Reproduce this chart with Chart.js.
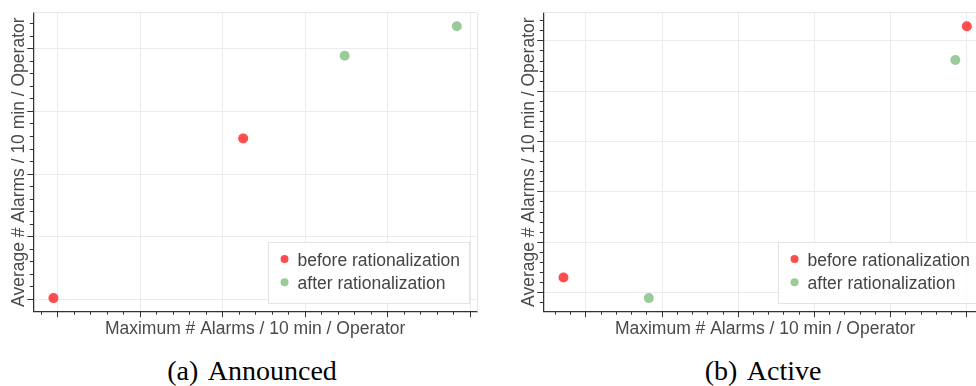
<!DOCTYPE html>
<html><head><meta charset="utf-8">
<script src="https://cdn.jsdelivr.net/npm/chart.js@4"></script>
<style>
html,body{margin:0;padding:0;background:#fff;overflow:hidden;width:976px;height:386px;position:relative}
.panel{position:absolute;top:0;width:490px;height:345px}
#pa{left:0}
#pb{left:510px}
.cap{position:absolute;top:355px;font-family:"Liberation Serif",serif;font-size:28px;line-height:normal;color:#000;white-space:nowrap;transform:translateX(-50%);word-spacing:4px}
</style></head><body>
<div class="panel" id="pa"><canvas id="ca" width="490" height="345"></canvas></div>
<div class="panel" id="pb"><canvas id="cb" width="490" height="345"></canvas></div>
<div class="cap" style="left:252px">(a) Announced</div>
<div class="cap" style="left:763px">(b) Active</div>
<script>
const seriesNames = ['before rationalization', 'after rationalization'];
const seriesColors = ['#ff4d4d', '#99cc99'];

const announcedBeforeX = [9.5, 32.5];
const announcedBeforeY = [1.02, 3.57];
const announcedAfterX = [44.8, 58.4];
const announcedAfterY = [4.89, 5.36];

const activeBeforeX = [7.06, 60.0];
const activeBeforeY = [1.30, 6.29];
const activeAfterX = [18.26, 58.49];
const activeAfterY = [0.89, 5.62];

const xTitle = 'Maximum # Alarms / 10 min / Operator';
const yTitle = 'Average # Alarms / 10 min / Operator';
const xMajorStep = 10;
const yMajorStep = 1;
const minorDivisions = 5;

Chart.defaults.font.family = '"Liberation Sans", Arial, sans-serif';

function pts(xs, ys) { return xs.map((x, i) => ({x: x, y: ys[i]})); }
function limits(arrs) {
  const all = [].concat(...arrs);
  const lo = Math.min(...all), hi = Math.max(...all), m = (hi - lo) * 0.05;
  return [lo - m, hi + m];
}
function alignPx(p) { return Math.round(p - 0.5) + 0.5; }

const decorPlugin = {
  id: 'decor',
  beforeDatasetsDraw(chart) {
    const {ctx, chartArea: a} = chart;
    ctx.save();
    ctx.strokeStyle = '#e6e6e6';
    ctx.lineWidth = 1;
    ctx.beginPath();
    ctx.moveTo(a.left, alignPx(a.top)); ctx.lineTo(a.right, alignPx(a.top));
    ctx.moveTo(alignPx(a.right), a.top); ctx.lineTo(alignPx(a.right), a.bottom);
    ctx.stroke();
    ctx.restore();
  },
  afterDatasetsDraw(chart) {
    const {ctx, chartArea: a, scales} = chart;
    ctx.save();
    // tick marks (major + minor)
    ctx.strokeStyle = '#333';
    ctx.lineWidth = 1;
    const tickVals = (sc, step) => {
      const s = step / minorDivisions, out = [];
      for (let k = Math.ceil(sc.min / s - 1e-9); k * s <= sc.max + 1e-9; k++) {
        out.push({v: k * s, major: Math.abs(k % minorDivisions) === 0});
      }
      return out;
    };
    ctx.beginPath();
    tickVals(scales.x, xMajorStep).forEach(t => {
      const px = alignPx(scales.x.getPixelForValue(t.v));
      ctx.moveTo(px, a.bottom); ctx.lineTo(px, a.bottom + (t.major ? 5.5 : 3));
    });
    tickVals(scales.y, yMajorStep).forEach(t => {
      const py = alignPx(scales.y.getPixelForValue(t.v));
      ctx.moveTo(a.left, py); ctx.lineTo(a.left - (t.major ? 6 : 3.5), py);
    });
    ctx.stroke();
    // legend inside plot, lower right
    ctx.font = '17.5px "Liberation Sans", Arial, sans-serif';
    const items = chart.data.datasets.map(d => ({text: d.label, color: d.backgroundColor}));
    const tw = Math.max(...items.map(i => ctx.measureText(i.text).width));
    const w = 29.3 + tw + 9.3, h = 61;
    const bx = a.right - 7.7 - w, by = a.bottom - 8.4 - h;
    ctx.fillStyle = 'rgba(255,255,255,0.85)';
    ctx.strokeStyle = '#e3e3e3';
    ctx.beginPath();
    ctx.rect(Math.round(bx) + 0.5, Math.round(by) + 0.5, Math.round(w), Math.round(h));
    ctx.fill(); ctx.stroke();
    items.forEach((it, i) => {
      ctx.fillStyle = it.color;
      ctx.beginPath();
      ctx.arc(bx + 16.3, by + 16.7 + i * 23.3, 4, 0, Math.PI * 2);
      ctx.fill();
      ctx.fillStyle = '#444';
      ctx.textBaseline = 'alphabetic';
      ctx.textAlign = 'left';
      ctx.fillText(it.text, bx + 29.3, by + 23.4 + i * 23.3);
    });
    ctx.restore();
  }
};

function makeChart(id, bx, by, ax, ay) {
  const [xmin, xmax] = limits([bx, ax]);
  const [ymin, ymax] = limits([by, ay]);
  return new Chart(document.getElementById(id), {
    type: 'scatter',
    data: {
      datasets: [
        {label: seriesNames[0], data: pts(bx, by), backgroundColor: seriesColors[0], pointRadius: 5, pointBorderWidth: 0, borderColor: seriesColors[0]},
        {label: seriesNames[1], data: pts(ax, ay), backgroundColor: seriesColors[1], pointRadius: 5, pointBorderWidth: 0, borderColor: seriesColors[1]}
      ]
    },
    options: {
      responsive: false,
      animation: false,
      devicePixelRatio: 1,
      layout: {padding: {top: 12.7, right: 13, bottom: 0, left: 0}},
      plugins: {legend: {display: false}, tooltip: {enabled: false}},
      scales: {
        x: {
          type: 'linear', min: xmin, max: xmax,
          ticks: {display: false, stepSize: xMajorStep, includeBounds: false},
          grid: {color: '#ebebeb', lineWidth: 1, drawTicks: false},
          border: {display: true, color: '#333', width: 1.25},
          title: {display: true, text: xTitle, color: '#4a4a4a', font: {size: 17.5}, padding: {top: 6.7, bottom: 5.6}}
        },
        y: {
          type: 'linear', min: ymin, max: ymax,
          ticks: {display: false, stepSize: yMajorStep, includeBounds: false},
          grid: {color: '#ebebeb', lineWidth: 1, drawTicks: false},
          border: {display: true, color: '#333', width: 1.25},
          title: {display: true, text: yTitle, color: '#4a4a4a', font: {size: 17.5}, padding: {top: 8.4, bottom: 3.9}}
        }
      }
    },
    plugins: [decorPlugin]
  });
}

makeChart('ca', announcedBeforeX, announcedBeforeY, announcedAfterX, announcedAfterY);
makeChart('cb', activeBeforeX, activeBeforeY, activeAfterX, activeAfterY);
</script>
</body></html>
